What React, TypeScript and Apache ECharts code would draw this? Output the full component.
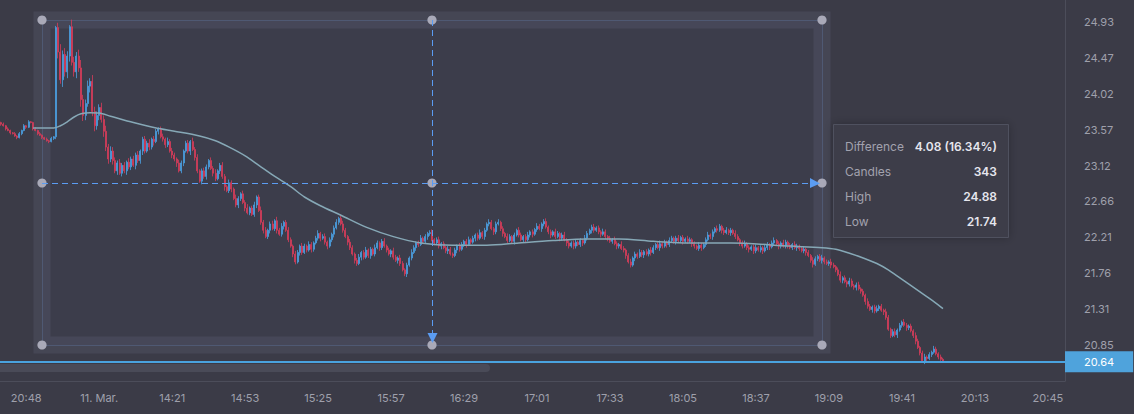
import React, { useEffect, useRef } from 'react';
import * as echarts from 'echarts';

// ---------- data ----------
const prevDayRange = ['10', '20:37', '21:00'];
const sessionRange = ['11', '13:30', '20:52'];
const dayBreakCategory = '11 13:49';
const dayBreakLabel = '11. Mar.';

const firstOpen = 23.66;
const closes = [
  23.64, 23.62, 23.58, 23.56, 23.53, 23.52, 23.49, 23.47, 23.52, 23.56, 23.62, 23.60, 23.67, 23.66, 23.58, 23.56, 23.52, 23.50, 23.47, 23.45, 23.43, 23.42, 23.46, 23.48,
  24.86, 24.55, 24.20, 24.52, 24.30, 24.50, 24.87, 24.42, 24.30, 24.50, 24.35, 23.95, 23.75, 23.90, 24.12, 24.18, 23.80, 23.62, 23.75, 23.85, 23.70, 23.55, 23.35, 23.20, 23.30, 23.18,
  23.05, 23.15, 23.02, 23.12, 23.05, 23.16, 23.10, 23.20, 23.12, 23.25, 23.18, 23.30, 23.45, 23.30, 23.40, 23.35, 23.45, 23.42, 23.55, 23.58,
  23.48, 23.45, 23.38, 23.42, 23.30, 23.25, 23.20, 23.15, 23.05, 23.15, 23.30, 23.40, 23.30, 23.42, 23.32, 23.22, 23.05, 22.92, 23.05, 22.98,
  23.10, 23.18, 23.08, 23.02, 22.95, 23.05, 23.12, 22.98, 22.85, 22.80,
  22.90, 22.82, 22.70, 22.62, 22.70, 22.76, 22.65, 22.58, 22.52, 22.58, 22.50, 22.62, 22.72, 22.55, 22.40, 22.30, 22.22, 22.30, 22.38, 22.32,
  22.42, 22.30, 22.25, 22.35, 22.40, 22.30, 22.18, 22.10, 22.00, 21.90, 22.02, 22.10, 22.02, 22.10, 22.05, 22.12, 22.06, 22.14, 22.20, 22.26,
  22.20, 22.22, 22.15, 22.10, 22.18, 22.25, 22.33, 22.40, 22.45, 22.38,
  22.30, 22.22, 22.15, 22.08, 22.00, 21.92, 21.88, 21.96, 22.02, 21.96, 22.05, 21.98, 22.06, 22.00, 22.08, 22.14, 22.08, 22.16, 22.10, 22.05,
  22.00, 22.04, 21.96, 21.92, 21.95, 21.88, 21.80, 21.75, 21.86, 21.95, 22.02, 22.08, 22.14, 22.12, 22.20, 22.16, 22.22, 22.26, 22.27, 22.18,
  22.14, 22.18, 22.10, 22.13, 22.08, 22.04, 22.06, 22.00, 21.98, 22.05,
  22.10, 22.06, 22.12, 22.16, 22.12, 22.18, 22.15, 22.20, 22.24, 22.20, 22.27, 22.22, 22.30, 22.38, 22.40, 22.32, 22.28, 22.38, 22.40, 22.32,
  22.26, 22.22, 22.17, 22.22, 22.16, 22.24, 22.30, 22.24, 22.18, 22.22, 22.18, 22.24, 22.28, 22.25, 22.31, 22.35, 22.32, 22.38, 22.41, 22.34,
  22.28, 22.24, 22.28, 22.22, 22.26, 22.20, 22.24, 22.18, 22.14, 22.10,
  22.14, 22.10, 22.15, 22.12, 22.17, 22.14, 22.20, 22.26, 22.30, 22.34, 22.30, 22.33, 22.28, 22.25, 22.28, 22.22, 22.20, 22.16, 22.18, 22.13,
  22.10, 22.12, 22.07, 22.05, 21.98, 21.90, 21.86, 21.95, 22.00, 21.97, 22.02, 21.99, 22.03, 22.00, 22.05, 22.02, 22.08, 22.12, 22.08, 22.13,
  22.10, 22.15, 22.12, 22.17, 22.20, 22.16, 22.20, 22.17, 22.21, 22.16,
  22.19, 22.16, 22.18, 22.13, 22.10, 22.07, 22.11, 22.08, 22.12, 22.18, 22.24, 22.22, 22.28, 22.32, 22.30, 22.35, 22.30, 22.27, 22.30, 22.27,
  22.30, 22.26, 22.22, 22.18, 22.14, 22.10, 22.13, 22.08, 22.06, 22.09, 22.04, 22.08, 22.05, 22.08, 22.04, 22.08, 22.12, 22.09, 22.14, 22.17,
  22.13, 22.10, 22.14, 22.10, 22.15, 22.11, 22.08, 22.12, 22.08, 22.10,
  22.07, 22.04, 22.06, 22.02, 21.98, 21.92, 21.87, 21.94, 21.97, 21.92, 21.95, 21.90, 21.88, 21.90, 21.86, 21.84, 21.80, 21.74, 21.67, 21.70,
  21.65, 21.62, 21.66, 21.60, 21.58, 21.61, 21.56, 21.53, 21.48, 21.40, 21.34, 21.30, 21.33, 21.28, 21.31, 21.34, 21.29, 21.27, 21.20, 21.05,
  20.97, 21.02, 20.98, 21.04, 21.10, 21.14, 21.10, 21.07, 21.09, 21.03, 20.97, 20.90, 20.82, 20.75, 20.65, 20.70, 20.68, 20.73, 20.76, 20.80,
  20.74, 20.70, 20.67, 20.64,
];

// wick lengths above the body and below it, in cents, per candle
const upperWicks = [
  1, 2, 1, 2, 1, 1, 2, 1, 2, 1, 2, 1, 2, 1, 1, 2, 1, 2, 1, 1, 2, 1, 2, 1,
  2, 6, 10, 5, 8, 6, 2, 9, 7, 5, 8, 10, 6, 5, 7, 4, 8, 6, 5, 4, 6, 5, 7, 4, 6, 5,
  4, 3, 5, 3, 4, 2, 5, 3, 4, 3, 5, 2, 3, 4, 3, 5, 2, 4, 3, 2,
  3, 4, 2, 5, 3, 4, 3, 2, 4, 3, 2, 3, 4, 2, 5, 3, 4, 2, 3, 4,
  3, 2, 4, 3, 5, 2, 3, 4, 3, 2, 4, 3, 2, 5, 3, 2, 4, 3, 5, 2,
  3, 4, 2, 3, 5, 3, 4, 2, 3, 4, 2, 5, 3, 4, 2, 3, 4, 3, 2, 4,
  3, 2, 4, 3, 2, 4, 3, 2, 3, 4, 2, 3, 4, 2, 3, 2, 3, 4, 2, 3,
  4, 3, 2, 4, 3, 2, 3, 4, 2, 3, 4, 2, 3, 2, 4, 3, 2, 3, 4, 2,
  3, 2, 4, 3, 2, 4, 3, 2, 3, 2, 4, 3, 2, 3, 4, 2, 3, 2, 3, 4,
  2, 3, 4, 2, 3, 2, 4, 3, 2, 3, 2, 4, 3, 2, 3, 4, 2, 3, 2, 3,
  4, 2, 3, 2, 4, 3, 2, 3, 4, 2, 3, 2, 4, 3, 2, 3, 2, 4, 3, 2,
  3, 4, 2, 3, 2, 4, 3, 2, 3, 4, 2, 3, 2, 4, 3, 2, 3, 4, 2, 3,
  2, 3, 4, 2, 3, 2, 4, 3, 2, 3, 4, 2, 3, 2, 4, 3, 2, 3, 2, 4,
  3, 2, 4, 3, 2, 3, 4, 2, 3, 2, 4, 3, 2, 3, 2, 4, 3, 2, 3, 4,
  2, 3, 2, 4, 3, 2, 3, 4, 2, 3, 2, 4, 3, 2, 3, 2, 4, 3, 2, 3,
  4, 2, 3, 2, 4, 3, 2, 3, 4, 2, 3, 2, 4, 3, 2, 3, 4, 2, 3, 2,
  3, 4, 2, 3, 2, 4, 3, 2, 3, 4, 2, 3, 2, 4, 3, 2, 3, 2, 4, 3,
  2, 3, 4, 2, 3, 2, 4, 3, 2, 3, 4, 2, 3, 2, 4, 3, 2, 3, 4, 2,
  3, 2, 4, 3, 2, 3, 4, 2, 3, 2, 4, 3, 2, 3, 4, 2, 3, 2, 4, 3,
  2, 3, 4, 2, 3, 2, 4, 3, 2, 3, 2, 4, 3, 2, 3, 4, 2, 3, 2, 4,
  3, 2, 3, 2,
];
const lowerWicks = [
  2, 1, 2, 1, 2, 1, 1, 2, 1, 2, 1, 2, 1, 1, 2, 1, 2, 1, 2, 1, 1, 2, 1, 2,
  3, 8, 5, 9, 6, 8, 7, 4, 6, 8, 5, 9, 7, 6, 4, 8, 6, 7, 5, 6, 4, 7, 5, 6, 4, 5,
  3, 5, 2, 4, 3, 5, 3, 4, 2, 5, 3, 4, 5, 3, 2, 4, 3, 5, 2, 4,
  2, 3, 4, 3, 2, 4, 3, 5, 2, 3, 4, 2, 3, 5, 2, 4, 3, 2, 4, 3,
  4, 3, 2, 4, 3, 2, 4, 3, 5, 2, 3, 4, 2, 3, 4, 3, 2, 4, 2, 3,
  2, 3, 4, 2, 3, 4, 2, 3, 4, 2, 3, 4, 2, 3, 4, 2, 3, 2, 4, 3,
  2, 4, 3, 2, 3, 2, 4, 3, 2, 3, 4, 2, 3, 4, 2, 3, 4, 2, 3, 2,
  3, 2, 4, 3, 2, 4, 3, 2, 4, 3, 2, 3, 4, 2, 3, 2, 4, 3, 2, 3,
  2, 4, 3, 2, 4, 3, 2, 3, 4, 2, 3, 2, 4, 3, 2, 3, 2, 4, 3, 2,
  3, 2, 3, 4, 2, 3, 4, 2, 3, 2, 4, 3, 2, 3, 4, 2, 3, 2, 4, 3,
  2, 3, 4, 2, 3, 2, 4, 3, 2, 3, 4, 2, 3, 2, 3, 4, 2, 3, 2, 4,
  3, 2, 3, 4, 2, 3, 2, 4, 3, 2, 3, 4, 2, 3, 2, 4, 3, 2, 4, 3,
  2, 4, 3, 2, 3, 4, 2, 3, 2, 4, 3, 2, 3, 4, 2, 3, 4, 2, 3, 2,
  4, 3, 2, 3, 4, 2, 3, 2, 4, 3, 2, 3, 4, 2, 3, 4, 2, 3, 2, 4,
  3, 2, 4, 3, 2, 3, 4, 2, 3, 4, 2, 3, 2, 4, 3, 2, 3, 4, 2, 3,
  2, 3, 4, 2, 3, 2, 4, 3, 2, 3, 4, 2, 3, 2, 4, 3, 2, 3, 4, 2,
  4, 3, 2, 3, 4, 2, 3, 4, 2, 3, 2, 4, 3, 2, 3, 4, 2, 3, 2, 4,
  3, 2, 3, 4, 2, 3, 4, 2, 3, 2, 4, 3, 2, 3, 4, 2, 3, 2, 3, 4,
  2, 4, 3, 2, 3, 4, 2, 3, 2, 4, 3, 2, 4, 3, 2, 3, 2, 4, 3, 2,
  3, 2, 3, 4, 2, 3, 2, 4, 3, 2, 3, 4, 2, 3, 2, 4, 3, 2, 3, 2,
  2, 3, 2, 1,
];

// moving average: [candle index, value]
const maPoints: [number, number][] = [
  [14, 23.59], [23, 23.59], [26, 23.62], [29, 23.67], [32, 23.73], [35, 23.77], [39, 23.785], [43, 23.78],
  [48, 23.74], [58, 23.66], [68, 23.59], [76, 23.55], [87, 23.49], [94, 23.43], [100, 23.35], [107, 23.24],
  [113, 23.12], [120, 22.98], [127, 22.85], [133, 22.72], [140, 22.61], [149, 22.49], [160, 22.34], [172, 22.22],
  [184, 22.14], [198, 22.11], [213, 22.11], [227, 22.14], [242, 22.17], [257, 22.19], [271, 22.19], [286, 22.16],
  [302, 22.14], [320, 22.14], [346, 22.10], [360, 22.08], [366, 22.06], [372, 22.01], [378, 21.95], [384, 21.88],
  [389, 21.80], [393, 21.72], [399, 21.60], [404, 21.50], [409, 21.40], [413, 21.31],
];

const yTickLabels = ['24.93', '24.47', '24.02', '23.57', '23.12', '22.66', '22.21', '21.76', '21.31', '20.85'];
const lastPrice = 20.64;

const statLabels = ['Difference', 'Candles', 'High', 'Low'];
const statValues = ['4.08 (16.34%)', '343', '24.88', '21.74'];

// ---------- styles ----------
const BG = '#3b3b47';
const UP = '#4b9ee0';
const DOWN = '#d43c5a';
const MA_COLOR = '#86a8b6';
const AXIS_LINE = '#4c4d5a';
const LABEL = '#9fa0ac';
const FONT = 'Inter, "Noto Sans", sans-serif';
const DASH = '#5b9cf2';
const HANDLE = '#a9a9b8';

function minuteRange(day: string, from: string, to: string): string[] {
  const toMin = (s: string) => Number(s.slice(0, 2)) * 60 + Number(s.slice(3));
  const out: string[] = [];
  for (let m = toMin(from); m <= toMin(to); m++) {
    const hh = String(Math.floor(m / 60)).padStart(2, '0');
    const mm = String(m % 60).padStart(2, '0');
    out.push(`${day} ${hh}:${mm}`);
  }
  return out;
}

const categories = [
  ...minuteRange(prevDayRange[0], prevDayRange[1], prevDayRange[2]),
  ...minuteRange(sessionRange[0], sessionRange[1], sessionRange[2]),
];

const yNums = yTickLabels.map(Number);
const yTop = yNums[0];
const yBottom = yNums[yNums.length - 1];
const yStep = (yTop - yBottom) / (yNums.length - 1);
const yMin = yBottom - yStep;
const yMax = 25.2075;

const candleData = closes.map((c, i) => {
  const o = i === 0 ? firstOpen : closes[i - 1];
  const lo = Math.min(o, c) - (lowerWicks[i] || 0) / 100;
  const hi = Math.max(o, c) + (upperWicks[i] || 0) / 100;
  return [o, c, lo, hi];
});

// selection overlay geometry (pixels)
const box = { l: 42, r: 822, t: 20, b: 345 };
const midX = 432;
const midY = 183;

function buildGraphics() {
  const els: any[] = [];
  els.push({
    type: 'rect', z: 0, silent: true,
    shape: { x: box.l, y: box.t, width: box.r - box.l, height: box.b - box.t },
    style: { fill: 'rgba(70,85,110,0.12)', stroke: 'rgba(110,115,140,0.2)', lineWidth: 17 },
  });
  els.push({
    type: 'rect', z: 0, silent: true,
    shape: { x: box.l + 0.5, y: box.t + 0.5, width: box.r - box.l, height: box.b - box.t },
    style: { fill: 'none', stroke: '#4f5973', lineWidth: 1 },
  });
  els.push({
    type: 'rect', z: 5, silent: true,
    shape: { x: 0, y: 364, width: 490, height: 8, r: [0, 4, 4, 0] },
    style: { fill: '#4a4b58' },
  });
  const handles = [
    [box.l, box.t], [midX, box.t], [box.r, box.t],
    [box.l, midY], [midX, midY], [box.r, midY],
    [box.l, box.b], [midX, box.b], [box.r, box.b],
  ];
  handles.forEach(([cx, cy]) => {
    els.push({ type: 'circle', z: 20, silent: true, shape: { cx, cy, r: 4.6 }, style: { fill: HANDLE } });
  });
  els.push({
    type: 'line', z: 21, silent: true,
    shape: { x1: box.l, y1: midY + 0.5, x2: box.r - 11, y2: midY + 0.5 },
    style: { stroke: DASH, lineWidth: 1, lineDash: [6, 4] },
  });
  els.push({
    type: 'line', z: 21, silent: true,
    shape: { x1: midX + 0.5, y1: box.t, x2: midX + 0.5, y2: box.b - 11 },
    style: { stroke: DASH, lineWidth: 1, lineDash: [6, 4] },
  });
  els.push({
    type: 'polygon', z: 21, silent: true,
    shape: { points: [[box.r - 12, midY - 5], [box.r - 2, midY + 0.5], [box.r - 12, midY + 5]] },
    style: { fill: DASH },
  });
  els.push({
    type: 'polygon', z: 21, silent: true,
    shape: { points: [[midX - 4.5, box.b - 12], [midX + 5.5, box.b - 12], [midX + 0.5, box.b - 2]] },
    style: { fill: DASH },
  });
  const px = 833, py = 124, pw = 175, ph = 113;
  els.push({
    type: 'rect', z: 30, silent: true,
    shape: { x: px + 0.5, y: py + 0.5, width: pw, height: ph },
    style: { fill: '#3c3c48', stroke: '#50515e', lineWidth: 1, shadowBlur: 10, shadowColor: 'rgba(0,0,0,0.25)' },
  });
  statLabels.forEach((t, k) => {
    const cy = 146.5 + k * 25;
    els.push({
      type: 'text', z: 31, silent: true, x: 845, y: cy,
      style: { text: t, fill: '#a2a2ae', font: `12px ${FONT}`, textAlign: 'left', textVerticalAlign: 'middle' },
    });
    els.push({
      type: 'text', z: 31, silent: true, x: 997, y: cy,
      style: { text: statValues[k], fill: '#e6e6ee', font: `600 12px ${FONT}`, textAlign: 'right', textVerticalAlign: 'middle' },
    });
  });
  return els;
}

export default function App() {
  const ref = useRef<HTMLDivElement>(null);
  useEffect(() => {
    document.body.style.margin = '0';
    document.body.style.background = BG;
    const chart = echarts.init(ref.current as HTMLDivElement, undefined, { renderer: 'svg' });
    chart.setOption({
      animation: false,
      backgroundColor: BG,
      textStyle: { fontFamily: FONT },
      grid: { left: 0, right: 69, top: 0, bottom: 33, containLabel: false },
      xAxis: {
        type: 'category',
        data: categories,
        boundaryGap: true,
        axisLine: { show: true, lineStyle: { color: AXIS_LINE, width: 1 } },
        axisTick: { show: false },
        splitLine: { show: false },
        axisLabel: {
          interval: (index: number) => (index - 11) % 32 === 0,
          formatter: (v: string) => (v === dayBreakCategory ? dayBreakLabel : v.slice(3)),
          color: LABEL,
          fontSize: 11,
          fontFamily: FONT,
          margin: 11,
        },
      },
      yAxis: {
        type: 'value',
        position: 'right',
        min: yMin,
        max: yMax,
        interval: yStep,
        splitLine: { show: false },
        axisTick: { show: false },
        axisLine: { show: true, lineStyle: { color: AXIS_LINE, width: 1 } },
        axisLabel: {
          showMinLabel: false,
          showMaxLabel: false,
          align: 'left',
          margin: 19,
          color: LABEL,
          fontSize: 11,
          fontFamily: FONT,
          formatter: (v: number) => {
            let best = '';
            let bd = 0.05;
            yTickLabels.forEach((l) => {
              const d = Math.abs(Number(l) - v);
              if (d < bd) { bd = d; best = l; }
            });
            return best;
          },
        },
      },
      graphic: { elements: buildGraphics() },
      series: [
        {
          type: 'candlestick',
          data: candleData,
          barWidth: 1.5,
          z: 2,
          itemStyle: { color: UP, color0: DOWN, borderColor: UP, borderColor0: DOWN, borderWidth: 0.8, opacity: 1 },
          markLine: {
            silent: true,
            symbol: ['none', 'none'],
            data: [{ yAxis: lastPrice }],
            lineStyle: { color: '#4aa3df', width: 2, type: 'solid' },
            label: {
              show: true,
              position: 'end',
              distance: 0,
              formatter: (p: any) => Number(p.value).toFixed(2),
              backgroundColor: '#4fa3dc',
              color: '#ffffff',
              fontSize: 11,
              fontFamily: FONT,
              padding: [5, 19, 5, 19],
            },
          },
        },
        {
          type: 'line',
          data: maPoints,
          smooth: 0.3,
          showSymbol: false,
          z: 3,
          lineStyle: { color: MA_COLOR, width: 1.5 },
        },
      ],
    });
    return () => chart.dispose();
  }, []);
  return <div ref={ref} style={{ width: 1134, height: 414 }} />;
}
